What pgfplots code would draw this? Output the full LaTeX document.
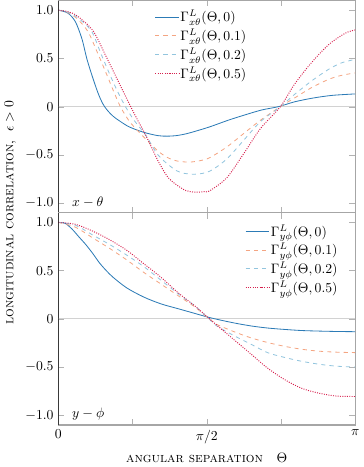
\documentclass[border=0pt]{standalone}
\usepackage{pgfplots}
\pgfplotsset{compat=1.18}

\definecolor{cblue}{HTML}{2C7BB6}
\definecolor{corange}{HTML}{F4A582}
\definecolor{clblue}{HTML}{92C5DE}
\definecolor{cred}{HTML}{D6204E}

\pgfplotsset{
  panel/.style={
    width=216.75pt, height=155pt, scale only axis,
    xmin=0, xmax=3.14159, ymin=-1.1, ymax=1.1,
    xtick={0,0.7854,1.5708,2.3562,3.14159},
    ytick={-1,-0.5,0,0.5,1},
    yticklabels={$-1.0$,$-0.5$,$0$,$0.5$,$1.0$},
    axis line style={gray!70, line width=0.8pt},
    tick style={gray!60},
    extra y ticks={0}, extra y tick labels={},
    extra y tick style={grid=major, major grid style={gray!35, line width=0.9pt}, major tick length=0pt},
    legend style={draw=none, fill=none, row sep=1.8pt, nodes={inner sep=1pt}},
    legend cell align=left,
  },
  s0/.style={cblue, line width=0.6pt, smooth, mark=none},
  s1/.style={corange, dashed, line width=0.6pt, smooth, mark=none},
  s2/.style={clblue, dashed, line width=0.6pt, smooth, mark=none},
  s5/.style={cred, densely dotted, line width=0.7pt, smooth, mark=none},
}

\begin{document}
\begin{tikzpicture}
% x - theta panel
\begin{axis}[panel, name=top,
    xticklabels={},
    ylabel={\textsc{longitudinal correlation}, \ $\epsilon>0$},
    ylabel style={at={(ticklabel cs:0)}, anchor=south},
    legend style={at={(0.31,0.975)}, anchor=north west}]
  \addplot[s0] coordinates {(0,1.0) (0.10,0.97) (0.18,0.88) (0.25,0.70) (0.30,0.50) (0.36,0.31) (0.42,0.14) (0.47,0.03) (0.52,-0.04) (0.58,-0.10) (0.65,-0.15) (0.75,-0.21) (0.9,-0.265) (1.05,-0.30) (1.15,-0.306) (1.25,-0.30) (1.35,-0.282) (1.45,-0.255) (1.6,-0.21) (1.8,-0.14) (1.96,-0.09) (2.15,-0.035) (2.33,0.0) (2.5,0.05) (2.7,0.09) (2.9,0.117) (3.14159,0.132)};
  \addlegendentry{$\Gamma^L_{x\theta}(\Theta,0)$}
  \addplot[s1] coordinates {(0,1.0) (0.1,0.975) (0.2,0.91) (0.312,0.78) (0.4,0.59) (0.5,0.36) (0.58,0.17) (0.656,0.0) (0.75,-0.15) (0.85,-0.26) (0.95,-0.36) (1.054,-0.46) (1.15,-0.525) (1.25,-0.562) (1.38,-0.575) (1.5,-0.56) (1.6,-0.53) (1.78,-0.42) (1.96,-0.28) (2.14,-0.14) (2.35,0.0) (2.5,0.09) (2.685,0.20) (2.866,0.285) (3.0,0.325) (3.14159,0.35)};
  \addlegendentry{$\Gamma^L_{x\theta}(\Theta,0.1)$}
  \addplot[s2] coordinates {(0,1.0) (0.1,0.98) (0.2,0.925) (0.348,0.787) (0.45,0.55) (0.55,0.32) (0.63,0.15) (0.71,0.0) (0.8,-0.14) (0.927,-0.30) (1.054,-0.50) (1.2,-0.63) (1.3,-0.685) (1.45,-0.70) (1.6,-0.67) (1.78,-0.545) (1.96,-0.35) (2.14,-0.155) (2.35,0.0) (2.5,0.127) (2.685,0.27) (2.866,0.39) (3.0,0.455) (3.14159,0.49)};
  \addlegendentry{$\Gamma^L_{x\theta}(\Theta,0.2)$}
  \addplot[s5] coordinates {(0,1.0) (0.1,0.985) (0.2,0.94) (0.366,0.787) (0.5,0.53) (0.63,0.27) (0.765,0.0) (0.85,-0.16) (0.927,-0.30) (1.054,-0.56) (1.15,-0.72) (1.236,-0.80) (1.35,-0.87) (1.45,-0.887) (1.55,-0.88) (1.6,-0.873) (1.78,-0.74) (1.96,-0.49) (2.14,-0.226) (2.35,0.0) (2.5,0.233) (2.685,0.463) (2.866,0.647) (3.04,0.763) (3.14159,0.795)};
  \addlegendentry{$\Gamma^L_{x\theta}(\Theta,0.5)$}
  \draw[black, line width=0.6pt] (rel axis cs:0,0) -- (rel axis cs:0,1);
  \draw[black, line width=0.6pt] (rel axis cs:0,0) -- (rel axis cs:1,0);
  \node[anchor=south west] at (rel axis cs:0.03,0.0) {$x-\theta$};
\end{axis}
% y - phi panel
\begin{axis}[panel, at={(top.south west)}, anchor=north west,
    xticklabels={$0$,,$\pi/2$,,$\pi$},
    xlabel={\textsc{angular separation}\quad $\Theta$},
    legend style={at={(0.96,0.965)}, anchor=north east}]
  \addplot[s0] coordinates {(0,1.0) (0.072,0.99) (0.145,0.93) (0.217,0.85) (0.29,0.77) (0.362,0.68) (0.435,0.58) (0.507,0.50) (0.58,0.43) (0.725,0.32) (0.906,0.225) (1.087,0.155) (1.268,0.105) (1.449,0.055) (1.594,0.015) (1.75,-0.02) (1.9,-0.05) (2.05,-0.075) (2.214,-0.095) (2.4,-0.11) (2.6,-0.122) (2.9,-0.13) (3.14159,-0.133)};
  \addlegendentry{$\Gamma^L_{y\phi}(\Theta,0)$}
  \addplot[s1] coordinates {(0,1.0) (0.181,0.95) (0.362,0.84) (0.543,0.73) (0.725,0.61) (0.906,0.48) (1.087,0.36) (1.268,0.24) (1.449,0.12) (1.594,0.0) (1.671,-0.055) (1.851,-0.13) (2.033,-0.195) (2.214,-0.245) (2.395,-0.285) (2.576,-0.315) (2.757,-0.335) (2.938,-0.345) (3.14159,-0.35)};
  \addlegendentry{$\Gamma^L_{y\phi}(\Theta,0.1)$}
  \addplot[s2] coordinates {(0,1.0) (0.181,0.97) (0.362,0.87) (0.543,0.77) (0.725,0.66) (0.906,0.54) (1.087,0.40) (1.268,0.26) (1.449,0.13) (1.594,0.0) (1.671,-0.07) (1.851,-0.17) (2.033,-0.26) (2.214,-0.35) (2.395,-0.40) (2.576,-0.44) (2.757,-0.47) (2.938,-0.49) (3.14159,-0.50)};
  \addlegendentry{$\Gamma^L_{y\phi}(\Theta,0.2)$}
  \addplot[s5] coordinates {(0,1.0) (0.181,0.98) (0.362,0.91) (0.543,0.82) (0.725,0.71) (0.906,0.57) (1.087,0.43) (1.268,0.27) (1.449,0.13) (1.594,0.005) (1.671,-0.06) (1.851,-0.21) (2.033,-0.36) (2.214,-0.51) (2.395,-0.63) (2.576,-0.72) (2.757,-0.77) (2.938,-0.80) (3.14159,-0.805)};
  \addlegendentry{$\Gamma^L_{y\phi}(\Theta,0.5)$}
  \draw[black, line width=0.6pt] (rel axis cs:0,0) -- (rel axis cs:0,1);
  \node[anchor=south west] at (rel axis cs:0.03,0.0) {$y-\phi$};
\end{axis}
\end{tikzpicture}
\end{document}
